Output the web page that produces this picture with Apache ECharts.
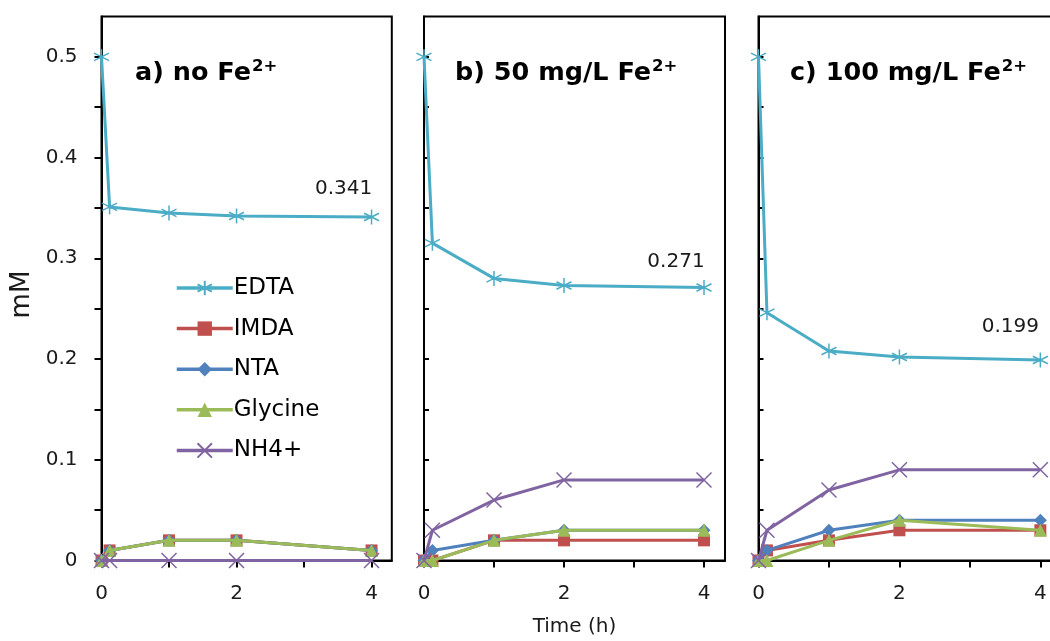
<!DOCTYPE html>
<html>
<head>
<meta charset="utf-8">
<script src="https://cdn.jsdelivr.net/npm/echarts@6/dist/echarts.min.js"></script>
<style>
  html, body { margin: 0; padding: 0; background: #fff; overflow: hidden; }
  #chart { width: 1075px; height: 641px; }
</style>
</head>
<body>
<div id="chart"></div>
<script>
// Sampling times (h)
const times = [0, 0.12, 1, 2, 4];

// Axis ticks and labels
const xTickMarks = [0, 1, 2, 3, 4];
const xTickLabels = [0, 2, 4];
const yTickMarks = [0, 0.05, 0.1, 0.15, 0.2, 0.25, 0.3, 0.35, 0.4, 0.45, 0.5];
const yTickLabels = [0, 0.1, 0.2, 0.3, 0.4, 0.5];

// Panel titles (main text, superscript)
const panelTitles = [['a) no Fe', '2+'], ['b) 50 mg/L Fe', '2+'], ['c) 100 mg/L Fe', '2+']];

const seriesNames = ['EDTA', 'IMDA', 'NTA', 'Glycine', 'NH4+'];

// a) no Fe2+
const edtaA = [0.5, 0.351, 0.345, 0.342, 0.341];
const imdaA = [0, 0.01, 0.02, 0.02, 0.01];
const ntaA = [0, 0.01, 0.02, 0.02, 0.01];
const glyA = [0, 0.01, 0.02, 0.02, 0.01];
const nh4A = [0, 0, 0, 0, 0];

// b) 50 mg/L Fe2+
const edtaB = [0.5, 0.315, 0.280, 0.273, 0.271];
const imdaB = [0, 0, 0.02, 0.02, 0.02];
const ntaB = [0, 0.01, 0.02, 0.03, 0.03];
const glyB = [0, 0, 0.02, 0.03, 0.03];
const nh4B = [0, 0.03, 0.06, 0.08, 0.08];

// c) 100 mg/L Fe2+
const edtaC = [0.5, 0.246, 0.208, 0.202, 0.199];
const imdaC = [0, 0.01, 0.02, 0.03, 0.03];
const ntaC = [0, 0.01, 0.03, 0.04, 0.04];
const glyC = [0, 0, 0.02, 0.04, 0.03];
const nh4C = [0, 0.03, 0.07, 0.09, 0.09];

const panelData = [
  [edtaA, imdaA, ntaA, glyA, nh4A],
  [edtaB, imdaB, ntaB, glyB, nh4B],
  [edtaC, imdaC, ntaC, glyC, nh4C]
];

const colors = ['#4BACC6', '#C0504D', '#4F81BD', '#9BBB59', '#8064A2'];
const ASTERISK = 'path://M5,0L5,10M0.67,2.5L9.33,7.5M0.67,7.5L9.33,2.5';
const CROSS = 'path://M0,0L10,10M10,0L0,10';
const symbols = [ASTERISK, 'rect', 'diamond', 'triangle', CROSS];
const symbolSizes = [15, 12, 13, 13, 15];

const FONT = 'DejaVu Sans';
// the third panel runs past the right edge of the visible window
const grids = [
  { left: 101.5, top: 16.5, width: 290.3, height: 544 },
  { left: 424, top: 16.5, width: 301, height: 544 },
  { left: 758.5, top: 16.5, width: 303, height: 544 }
];
// end-value label offsets per panel
const labelOffsets = [[-28, -4.5], [-28, -2], [-30, -10]];

const xAxes = grids.map((g, i) => ({
  type: 'value', gridIndex: i, min: 0, max: 4.3,
  axisLine: { show: true, onZero: false, lineStyle: { color: '#000', width: 2 } },
  axisTick: { show: true, inside: false, length: 7, customValues: xTickMarks, lineStyle: { color: '#000', width: 2 } },
  axisLabel: { customValues: xTickLabels, fontFamily: FONT, fontSize: 20, color: '#1a1a1a', margin: 23 },
  splitLine: { show: false },
  name: i === 1 ? 'Time (h)' : '',
  nameLocation: 'middle', nameGap: 56,
  nameTextStyle: { fontFamily: FONT, fontSize: 20, color: '#1a1a1a' }
}));

const yAxes = grids.map((g, i) => ({
  type: 'value', gridIndex: i, min: 0, max: 0.54,
  axisLine: { show: true, onZero: false, lineStyle: { color: '#000', width: 2 } },
  axisTick: { show: true, inside: i !== 0, length: i === 0 ? 7 : 5, customValues: yTickMarks, lineStyle: { color: '#000', width: 2 } },
  axisLabel: { show: i === 0, customValues: yTickLabels, fontFamily: FONT, fontSize: 20, color: '#1a1a1a', margin: 24 },
  splitLine: { show: false },
  name: i === 0 ? 'mM' : '',
  nameLocation: 'middle', nameGap: 66,
  nameTextStyle: { fontFamily: FONT, fontSize: 26, color: '#1a1a1a', padding: [0, 12, 0, 0] }
}));

const series = [];
panelData.forEach((sets, p) => {
  sets.forEach((vals, s) => {
    const data = vals.map((v, k) => {
      const item = { value: [times[k], v] };
      if (s === 0 && k === vals.length - 1) {
        item.label = {
          show: true, position: 'top', offset: labelOffsets[p],
          formatter: (prm) => String(prm.value[1]),
          fontFamily: FONT, fontSize: 20, color: '#1a1a1a'
        };
      }
      return item;
    });
    series.push({
      name: seriesNames[s], type: 'line', xAxisIndex: p, yAxisIndex: p,
      data, symbol: symbols[s], symbolSize: symbolSizes[s], showAllSymbol: true,
      lineStyle: { color: colors[s], width: 3 },
      itemStyle: { color: colors[s], borderColor: colors[s], borderWidth: (s === 0 || s === 4) ? 1.5 : 0 },
      emphasis: { disabled: true }, animation: false, z: 2 + s
    });
  });
});

const titles = panelTitles.map((t, i) => ({
  text: '{m|' + t[0] + '}{s|' + t[1] + '}',
  left: [135, 455, 790][i], top: 58, padding: 0,
  textStyle: {
    rich: {
      m: { fontFamily: FONT, fontWeight: 'bold', fontSize: 25.5, color: '#000' },
      s: { fontFamily: FONT, fontWeight: 'bold', fontSize: 16.5, color: '#000', verticalAlign: 'top', padding: [0, 0, 13, 1] }
    }
  }
}));

const chart = echarts.init(document.getElementById('chart'), null, { renderer: 'canvas' });
chart.setOption({
  backgroundColor: '#fff',
  animation: false,
  title: titles,
  legend: {
    data: seriesNames, orient: 'vertical', left: 175, top: 276.5, padding: 0,
    itemWidth: 56, itemHeight: 18, itemGap: 17.6,
    lineStyle: { width: 3.5 },
    textStyle: { fontFamily: FONT, fontSize: 23, color: '#000', padding: [0, 0, 0, -4] },
    selectedMode: false
  },
  grid: grids.map(g => Object.assign({
    show: true, borderColor: '#000', borderWidth: 2, backgroundColor: 'transparent',
    outerBoundsMode: 'none', containLabel: false
  }, g)),
  xAxis: xAxes,
  yAxis: yAxes,
  series
});
</script>
</body>
</html>
